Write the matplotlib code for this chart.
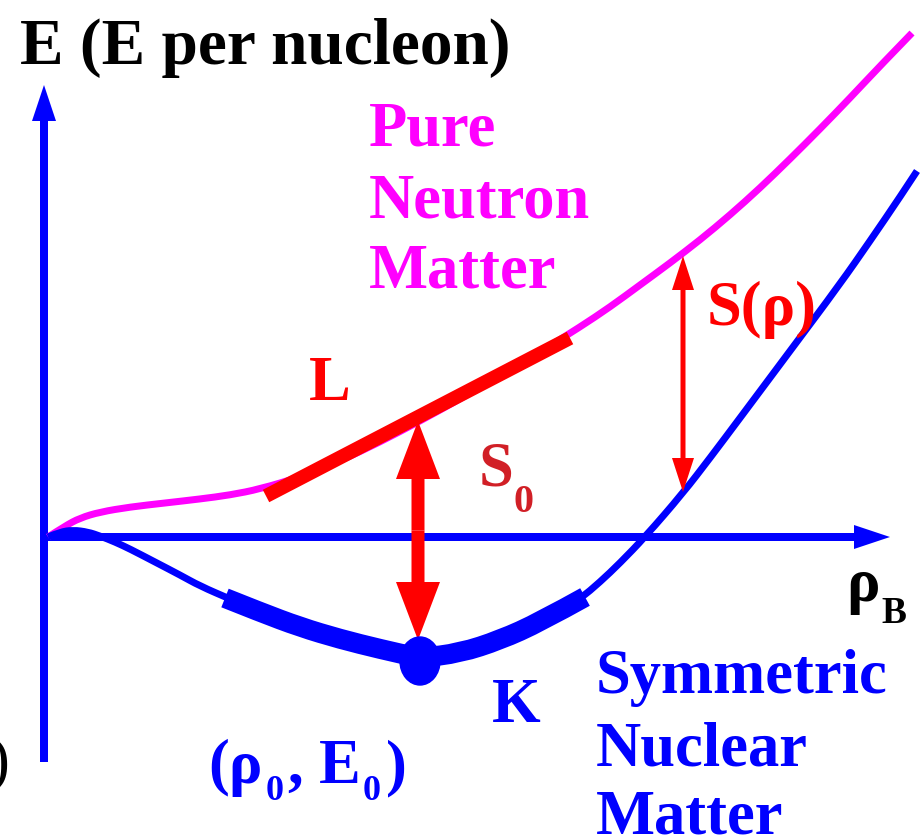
import matplotlib
matplotlib.use("Agg")
import matplotlib.pyplot as plt
from matplotlib.patches import Ellipse, PathPatch
from matplotlib.path import Path

# ---- data (pixel-space schematic) ----
pnm_x = [48, 65, 80, 100, 130, 165, 200, 230, 260, 300, 340, 380, 420, 460, 500, 540,
         580, 610, 640, 670, 700, 730, 760, 790, 820, 850, 880, 912]
pnm_y = [538, 527, 519, 513, 508, 504, 500, 496, 490, 478, 462, 443, 422, 400, 377, 353,
         328, 308, 286, 264, 241, 216, 189, 160, 130, 99, 67, 34]

snm_x = [48, 60, 73, 88, 100, 115, 130, 155, 180, 200, 230, 260, 300, 340, 380, 420, 460,
         500, 540, 580, 600, 620, 645, 683, 710, 740, 790, 840, 870, 900, 917]
snm_y = [538, 533, 531, 533, 537, 543, 550, 563, 576, 587, 600, 613, 628, 640, 650, 658,
         654, 642, 624, 600, 583, 564, 538, 494, 459, 419, 352, 285, 242, 198, 172]

band_x = [225, 260, 300, 340, 380, 420, 460, 500, 540, 585]
band_y = [599, 613, 628, 640, 650, 659, 654, 641, 623, 598]

L_x = [266, 570]
L_y = [497, 339]

sat_point = (420, 662)

BLUE = "#0000ff"
MAG = "#ff00ff"
RED = "#ff0000"
DRED = "#d11f26"
FONT = "Liberation Serif"

fig = plt.figure(figsize=(9.22, 8.37), dpi=100)
ax = fig.add_axes([0, 0, 1, 1])
ax.set_xlim(0, 922)
ax.set_ylim(837, 0)
ax.axis("off")

PX = 0.72  # points per pixel at 100 dpi


def smooth_curve(xs, ys, color, width_px, z):
    """Draw a smooth quadratic Bezier path guided by the read points."""
    pts = list(zip(xs, ys))
    verts = [pts[0]]
    codes = [Path.MOVETO]
    for i in range(1, len(pts) - 1):
        mx = (pts[i][0] + pts[i + 1][0]) / 2
        my = (pts[i][1] + pts[i + 1][1]) / 2
        if i == len(pts) - 2:
            mx, my = pts[-1]
        verts += [pts[i], (mx, my)]
        codes += [Path.CURVE3, Path.CURVE3]
    patch = PathPatch(Path(verts, codes), fill=False, edgecolor=color,
                      lw=width_px * PX, capstyle="butt", joinstyle="round", zorder=z)
    ax.add_patch(patch)


# axes arrows
ax.arrow(44, 763, 0, -677, width=8, head_width=24, head_length=36,
         length_includes_head=True, color=BLUE, lw=0, zorder=2)
ax.arrow(44, 538, 846, 0, width=8, head_width=24, head_length=36,
         length_includes_head=True, color=BLUE, lw=0, zorder=2)

# curves
smooth_curve(pnm_x, pnm_y, MAG, 7, 3)
smooth_curve(snm_x, snm_y, BLUE, 7, 3)
smooth_curve(band_x, band_y, BLUE, 20, 3)

# L tangent line
ax.plot(L_x, L_y, color=RED, lw=14 * PX, solid_capstyle="butt", zorder=4)

# S0 double arrow
s0_x, s0_top, s0_bot = 418, 422, 641
mid = (s0_top + s0_bot) / 2
for end in (s0_top, s0_bot):
    ax.arrow(s0_x, mid, 0, end - mid, width=13, head_width=44, head_length=58,
             length_includes_head=True, color=RED, lw=0, zorder=5)

# S(rho) double arrow
sr_x, sr_top, sr_bot = 683, 257, 493
mid2 = (sr_top + sr_bot) / 2
for end in (sr_top, sr_bot):
    ax.arrow(sr_x, mid2, 0, end - mid2, width=5, head_width=22, head_length=34,
             length_includes_head=True, color=RED, lw=0, zorder=5)

# saturation point
ax.add_patch(Ellipse(sat_point, 40, 48, color=BLUE, zorder=6))


def T(x, y, s, size=45, color="black", weight="bold"):
    ax.text(x, y, s, fontsize=size, color=color, family=FONT, weight=weight,
            ha="left", va="baseline", zorder=7)


T(20, 64, "E (E per nucleon)", size=47)
T(369, 145, "Pure", color=MAG)
T(369, 217, "Neutron", color=MAG)
T(369, 287, "Matter", color=MAG)

T(596, 693, "Symmetric", color=BLUE)
T(596, 765, "Nuclear", color=BLUE)
T(596, 834, "Matter", color=BLUE)

T(309, 400, "L", color=RED)
T(479, 485, "S", color=DRED)
T(513, 512, "0", size=29, color=DRED)
T(707, 325, "S(ρ)", color=RED)

T(846, 601, "ρ", color="black")
T(881, 623, "B", size=27, color="black")

T(492, 722, "K", color=BLUE)

T(208, 783, "(ρ", color=BLUE)
T(266, 800, "0", size=26, color=BLUE)
T(287, 783, ",", color=BLUE)
T(319, 783, "E", color=BLUE)
T(363, 800, "0", size=26, color=BLUE)
T(386, 783, ")", color=BLUE)

T(-11, 779, ")", color="black", weight="normal")

fig.savefig("out.png", dpi=100)
